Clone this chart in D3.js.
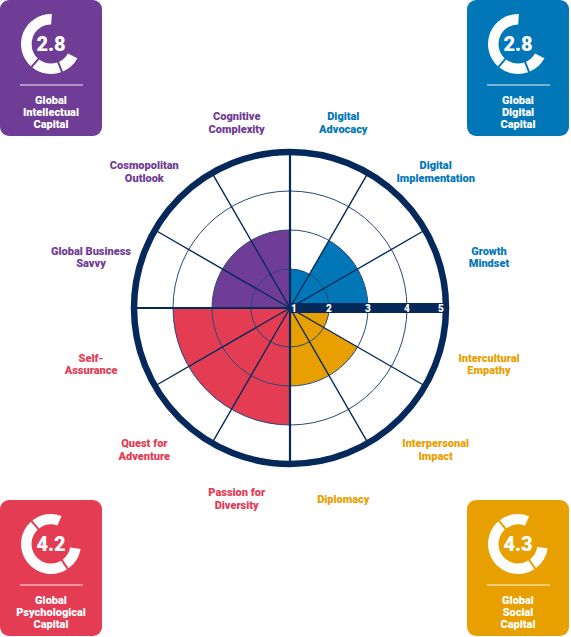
<!DOCTYPE html>
<html lang="en">
<head>
<meta charset="UTF-8">
<script src="https://cdnjs.cloudflare.com/ajax/libs/d3/7.8.5/d3.min.js"></script>
<title>Global mindset wheel</title>
<style>
body{margin:0;background:#fff;}
text{font-family:Roboto, "Noto Sans", sans-serif;font-weight:900;}
</style>
</head>
<body>
<svg id="vis" width="571" height="637"></svg>
<script>
// competencies, clockwise from 12 o'clock
var categories = ["Digital\nAdvocacy", "Digital\nImplementation", "Growth\nMindset",
	"Intercultural\nEmpathy", "Interpersonal\nImpact", "Diplomacy",
	"Passion for\nDiversity", "Quest for\nAdventure", "Self-\nAssurance",
	"Global Business\nSavvy", "Cosmopolitan\nOutlook", "Cognitive\nComplexity"];
var groups = ["digital","digital","digital","social","social","social",
	"psychological","psychological","psychological","intellectual","intellectual","intellectual"];
var scores = [2, 3, 3, 2, 3, 3, 4, 4, 4, 3, 3, 3];
var ticks = [1, 2, 3, 4, 5];

// the four capital boxes: top-left, top-right, bottom-left, bottom-right
var capitalNames = ["Global\nIntellectual\nCapital", "Global\nDigital\nCapital", "Global\nPsychological\nCapital", "Global\nSocial\nCapital"];
var capitalGroups = ["intellectual", "digital", "psychological", "social"];
var capitalScores = [2.8, 2.8, 4.2, 4.3];

var W = 571, H = 637;
var cx = 290, cy = 308;
var navy = "#04295a";

var color = d3.scaleOrdinal()
	.domain(["digital","social","psychological","intellectual"])
	.range(["#0277b8","#e8a000","#e33c53","#6f3c96"]);

var r = d3.scaleLinear().domain([1,5]).range([0,156]);
var angle = d3.scaleBand().domain(categories).range([0, 2*Math.PI]);

var svg = d3.select("#vis");
var g = svg.append("g").attr("transform","translate("+cx+","+cy+")");

var data = categories.map(function(c,i){ return {cat:c, group:groups[i], v:scores[i]}; });

// filled sectors
var sector = d3.arc()
	.innerRadius(0)
	.outerRadius(function(d){ return r(d.v); })
	.startAngle(function(d){ return angle(d.cat); })
	.endAngle(function(d){ return angle(d.cat)+angle.bandwidth(); });

g.append("g").selectAll("path").data(data).join("path")
	.attr("d", sector)
	.attr("fill", function(d){ return color(d.group); });

// inner rings
g.append("g").selectAll("circle").data(ticks.slice(1,4)).join("circle")
	.attr("r", function(d){ return r(d); })
	.attr("fill","none")
	.attr("stroke","#27497a")
	.attr("stroke-width",1);

// spokes
g.append("g").selectAll("line").data(data).join("line")
	.attr("x1",0).attr("y1",0)
	.attr("x2", function(d){ return r(5)*Math.sin(angle(d.cat)); })
	.attr("y2", function(d){ return -r(5)*Math.cos(angle(d.cat)); })
	.attr("stroke", navy)
	.attr("stroke-width", function(d,i){ return i%3==0 ? 2.2 : 1.4; });

// outer ring
g.append("circle").attr("r", r(5))
	.attr("fill","none").attr("stroke",navy).attr("stroke-width",6.5);

// scale bar
g.append("rect").attr("x",0).attr("y",-5)
	.attr("width", r(5)+2).attr("height",10).attr("fill",navy);

g.append("g").selectAll("text").data(ticks).join("text")
	.attr("x", function(d){ return Math.max(4, Math.min(r(d), r(5)-5)); })
	.attr("y", 3.5)
	.attr("text-anchor","middle")
	.attr("font-size",10)
	.attr("fill","#fff")
	.text(function(d){ return d; });

// category labels
var lh = 12.5;
var labels = g.append("g").selectAll("text").data(data).join("text")
	.attr("text-anchor","middle")
	.attr("font-size",11)
	.attr("fill", function(d){ return color(d.group); })
	.attr("transform", function(d){
		var a = angle(d.cat) + angle.bandwidth()/2;
		var x = 206*Math.sin(a), y = -190*Math.cos(a);
		y += Math.cos(a) < 0 ? 7 : -2;
		return "translate("+x+","+y+")";
	});
labels.each(function(d){
	var lines = d.cat.split("\n");
	var t = d3.select(this);
	lines.forEach(function(l,i){
		t.append("tspan").attr("x",0)
			.attr("y", (i-(lines.length-1)/2)*lh + 4)
			.text(l);
	});
});

// capital boxes
var boxW = 102, boxH = 136;
var boxPos = [[0,0],[W-boxW-2,0],[0,H-boxH-1],[W-boxW-2,H-boxH-1]];
var gauge = d3.arc().innerRadius(19.5).outerRadius(30).padAngle(0.08).padRadius(25);

capitalNames.forEach(function(name,i){
	var b = svg.append("g").attr("transform","translate("+boxPos[i][0]+","+boxPos[i][1]+")");
	var col = color(capitalGroups[i]);
	b.append("rect").attr("width",boxW).attr("height",boxH).attr("rx",9).attr("fill",col);

	// ring gauge, opening on the upper right shrinks as the score grows
	var s = capitalScores[i];
	var open = 113 - 27*(s-2.8);
	var a0 = (60+open/2)*Math.PI/180, a1 = (420-open/2)*Math.PI/180;
	var cuts = [a0, a0+(a1-a0)*0.17, a0+(a1-a0)*(i<2 ? 0.42 : 0.78), a1];
	var gg = b.append("g").attr("transform","translate(51,44)");
	for (var k=0;k<3;k++){
		gg.append("path").attr("d", gauge({startAngle:cuts[k], endAngle:cuts[k+1]})).attr("fill","#fff");
	}
	gg.append("text").attr("text-anchor","middle").attr("y",7)
		.attr("font-size",20).attr("fill","#fff").text(s.toFixed(1));

	b.append("line").attr("x1",20).attr("x2",83).attr("y1",85).attr("y2",85)
		.attr("stroke","#fff").attr("stroke-width",1.2).attr("opacity",0.9);

	var t = b.append("text").attr("text-anchor","middle").attr("font-size",11).attr("fill","#fff");
	name.split("\n").forEach(function(l,k){
		t.append("tspan").attr("x",51).attr("y",104+k*11.8).text(l);
	});
});
</script>
</body>
</html>
